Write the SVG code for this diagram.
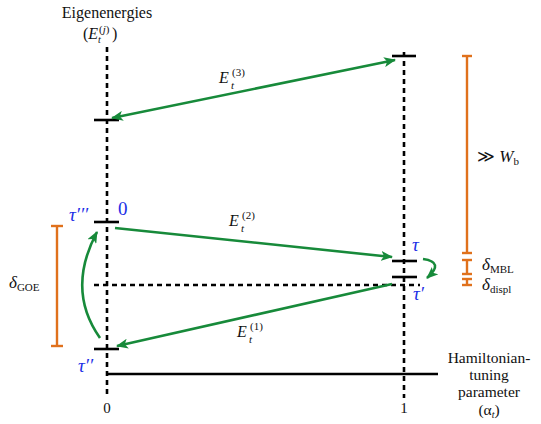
<svg xmlns="http://www.w3.org/2000/svg" width="541" height="424" viewBox="0 0 541 424">
<defs>
<style>
.ax{stroke:#000;stroke-width:2.6;stroke-dasharray:5 4;fill:none}
.tick{stroke:#000;stroke-width:2.6;fill:none}
.g{stroke:#178a3a;stroke-width:2.6;fill:none}
.o{stroke:#e0711c;stroke-width:2.4;fill:none}
text{font-family:'Liberation Serif','DejaVu Serif',serif}
.t{fill:#111}
.m{font-style:italic;fill:#111}
.b{font-style:italic;fill:#1c2fe6}
</style>
<marker id="ah" viewBox="0 0 12 10" refX="11" refY="5" markerWidth="12" markerHeight="10" markerUnits="userSpaceOnUse" orient="auto-start-reverse">
<path d="M0,0 L12,5 L0,10 L3,5 z" fill="#178a3a"/>
</marker>
</defs>
<g id="axes">
<line class="ax" x1="107" y1="47" x2="107" y2="398"/>
<line class="ax" x1="404" y1="52" x2="404" y2="398"/>
<line class="tick" x1="106" y1="374" x2="438" y2="374"/>
<line class="ax" x1="94" y1="285" x2="420" y2="285"/>
</g>
<g id="levels">
<line class="tick" x1="94" y1="120" x2="119" y2="120"/>
<line class="tick" x1="94" y1="222" x2="119" y2="222"/>
<line class="tick" x1="94" y1="349" x2="119" y2="349"/>
<line class="tick" x1="392" y1="56" x2="416" y2="56"/>
<line class="tick" x1="392" y1="261" x2="417" y2="261"/>
<line class="tick" x1="392" y1="277" x2="417" y2="277"/>
</g>
<g id="connectors">
<line class="g" x1="112" y1="118" x2="395" y2="60" marker-start="url(#ah)" marker-end="url(#ah)"/>
<line class="g" x1="115" y1="228" x2="392" y2="257" marker-end="url(#ah)"/>
<line class="g" x1="392" y1="284" x2="117" y2="346" marker-end="url(#ah)"/>
<path class="g" d="M100 338 Q66 290 97 232" marker-end="url(#ah)"/>
<path class="g" d="M423 259 Q445 262 427 278" marker-end="url(#ah)"/>
</g>
<g id="bars">
<line class="o" x1="467" y1="56" x2="467" y2="253"/>
<line class="o" x1="462" y1="56" x2="472" y2="56"/>
<line class="o" x1="462" y1="253" x2="472" y2="253"/>
<line class="o" x1="467" y1="260" x2="467" y2="274"/>
<line class="o" x1="462" y1="260" x2="472" y2="260"/>
<line class="o" x1="462" y1="274" x2="472" y2="274"/>
<line class="o" x1="467" y1="279" x2="467" y2="285"/>
<line class="o" x1="462" y1="279" x2="472" y2="279"/>
<line class="o" x1="462" y1="285" x2="472" y2="285"/>
<line class="o" x1="57" y1="226" x2="57" y2="346"/>
<line class="o" x1="51" y1="226" x2="63" y2="226"/>
<line class="o" x1="51" y1="346" x2="63" y2="346"/>
</g>
<g id="labels">
<text class="t" x="107" y="18" font-size="16" text-anchor="middle">Eigenenergies</text>
<text class="t" x="83" y="39" font-size="16">(<tspan font-style="italic">E</tspan></text>
<text class="m" x="98" y="43" font-size="10">t</text>
<text class="t" x="99" y="33" font-size="11">(<tspan font-style="italic">j</tspan>)</text>
<text class="t" x="112" y="39" font-size="16">)</text>

<text class="m" x="219" y="83" font-size="16">E</text>
<text class="m" x="231" y="89" font-size="11">t</text>
<text class="t" x="232" y="76" font-size="11">(3)</text>

<text class="m" x="229" y="226" font-size="16">E</text>
<text class="m" x="241" y="232" font-size="11">t</text>
<text class="t" x="242" y="219" font-size="11">(2)</text>

<text class="m" x="237" y="337" font-size="16">E</text>
<text class="m" x="249" y="343" font-size="11">t</text>
<text class="t" x="250" y="330" font-size="11">(1)</text>

<text class="m" x="477" y="162" font-size="17"><tspan font-style="normal">≫</tspan> W<tspan font-style="normal" font-size="11" dy="3">b</tspan></text>
<text class="m" x="482" y="270" font-size="17">δ<tspan font-style="normal" font-size="11" dy="3">MBL</tspan></text>
<text class="m" x="482" y="290" font-size="17">δ<tspan font-style="normal" font-size="11" dy="3">displ</tspan></text>
<text class="m" x="9" y="288" font-size="17">δ<tspan font-style="normal" font-size="11" dy="3">GOE</tspan></text>

<text class="b" x="69" y="221" font-size="19">τ′′′</text>
<text x="118" y="215" font-size="19" fill="#1c2fe6">0</text>
<text class="b" x="412" y="251" font-size="19">τ</text>
<text class="b" x="413" y="300" font-size="19">τ′</text>
<text class="b" x="78" y="372" font-size="19">τ′′</text>

<text class="t" x="107" y="413" font-size="15" text-anchor="middle">0</text>
<text class="t" x="404" y="413" font-size="15" text-anchor="middle">1</text>

<text class="t" font-size="15.5" text-anchor="middle"><tspan x="489" y="363">Hamiltonian-</tspan><tspan x="489" y="380">tuning</tspan><tspan x="489" y="397">parameter</tspan><tspan x="489" y="415">(α<tspan font-style="italic" font-size="10" dy="3">t</tspan><tspan dy="-3">)</tspan></tspan></text>
</g>
</svg>
